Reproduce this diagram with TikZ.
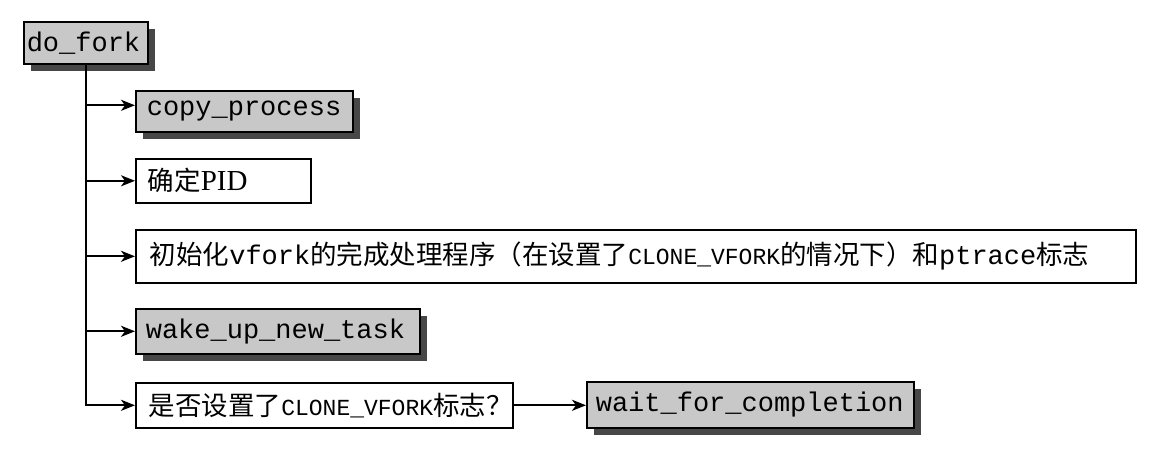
\documentclass[tikz,border=0pt]{standalone}
\usepackage{fontspec}
\setmainfont{Liberation Serif}
\setmonofont{Liberation Mono}
\newfontfamily\cjk{Noto Sans CJK SC}
\usetikzlibrary{arrows.meta,shadows}
\newcommand\mbig{\fontsize{27}{30}\selectfont\ttfamily}
\newcommand\msmall{\fontsize{23}{26}\selectfont\ttfamily}
\newcommand\zh[1]{{\cjk\fontsize{26.5}{30}\selectfont #1}}
\definecolor{boxgray}{HTML}{C8C8C8}
\definecolor{shgray}{HTML}{474747}
\tikzset{
  box/.style={draw=black, line width=1.6pt, anchor=north west, inner ysep=0pt, align=left, fill=white},
  graybox/.style={box, fill=boxgray, drop shadow={shadow xshift=7.5pt, shadow yshift=-7.5pt, fill=shgray, opacity=1}},
  conn/.style={line width=1.8pt, draw=black},
  arr/.style={conn, -{Stealth[length=14pt,width=11pt,inset=4pt]}}
}
\begin{document}
\begin{tikzpicture}[x=1pt,y=1pt]
\useasboundingbox[fill=white] (0,0) rectangle (1152,-449);
\node[graybox, minimum width=124pt, minimum height=42pt, inner xsep=3pt, text width=118pt] (dofork) at (23,-21) {\mbig do\_fork};
\node[graybox, minimum width=217pt, minimum height=41pt, inner xsep=11pt, text width=195pt] (copy) at (135,-90) {\mbig copy\_process};
\node[box, minimum width=175pt, minimum height=44pt, inner xsep=12pt, text width=151pt] (pid) at (135,-158) {\zh{确定}{\fontsize{29}{30}\selectfont\rmfamily PID}};
\node[box, minimum width=1000pt, minimum height=53pt, inner xsep=14pt, text width=972pt] (init) at (135,-229) {\zh{初始化}{\mbig vfork}\zh{的完成处理程序（在设置了}{\msmall CLONE\_VFORK}\zh{的情况下）和}{\mbig ptrace}\zh{标志}};
\node[graybox, minimum width=284pt, minimum height=45pt, inner xsep=10pt, text width=264pt] (wake) at (135,-308) {\mbig wake\_up\_new\_task};
\node[box, minimum width=377pt, minimum height=45pt, inner xsep=13pt, text width=351pt] (ifclone) at (135,-382) {\zh{是否设置了}{\msmall CLONE\_VFORK}\zh{标志？}};
\node[graybox, minimum width=327pt, minimum height=46pt, inner xsep=9pt, text width=309pt] (wait) at (586,-381) {\mbig wait\_for\_completion};
\draw[arr] (dofork.south) |- (ifclone.west);
\draw[arr] ([yshift=6pt]dofork.south |- copy.west) -- ([yshift=6pt]copy.west);
\draw[arr] (dofork.south |- pid.west) -- (pid.west);
\draw[arr] (dofork.south |- init.west) -- (init.west);
\draw[arr] (dofork.south |- wake.west) -- (wake.west);
\draw[arr] (ifclone.east) -- (ifclone.east -| wait.west);
\end{tikzpicture}
\end{document}
